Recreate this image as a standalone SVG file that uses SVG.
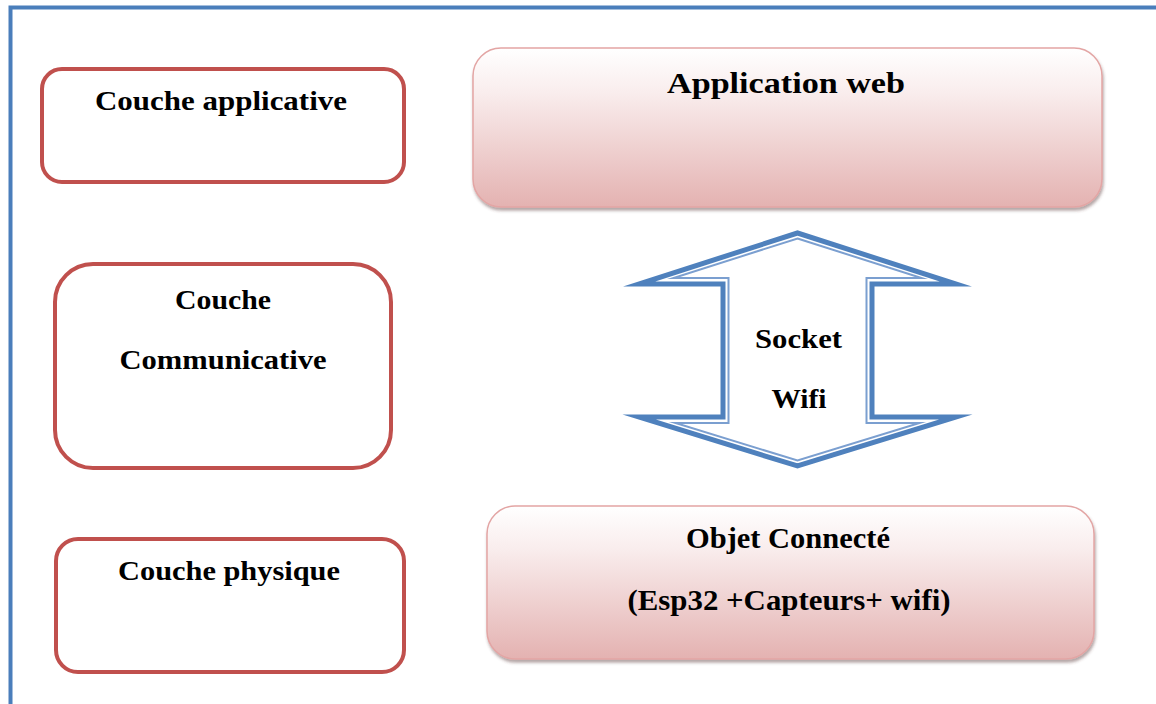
<svg xmlns="http://www.w3.org/2000/svg" width="1156" height="704" viewBox="0 0 1156 704">
  <defs>
    <linearGradient id="pinkFill" x1="0" y1="0" x2="0" y2="1">
      <stop offset="0" stop-color="#ffffff"/>
      <stop offset="0.28" stop-color="#f9eded"/>
      <stop offset="1" stop-color="#e4b2b1"/>
    </linearGradient>
    <filter id="softShadow" x="-5%" y="-10%" width="110%" height="125%">
      <feDropShadow dx="1" dy="3" stdDeviation="1.5" flood-color="#5a3a3a" flood-opacity="0.45"/>
    </filter>
  </defs>
  <style>
    .frame { fill: none; stroke: #4a7ebb; stroke-width: 4; }
    .layer { fill: #ffffff; stroke: #c0504d; stroke-width: 4; }
    .block { fill: url(#pinkFill); stroke: #e3a5a4; stroke-width: 1.5; filter: url(#softShadow); }
    .arrow-outer { fill: #ffffff; stroke: #4f81bd; stroke-width: 5; stroke-linejoin: miter; stroke-miterlimit: 8; }
    .arrow-inner { fill: none; stroke: #7b9fd0; stroke-width: 2; stroke-linejoin: miter; stroke-miterlimit: 8; }
    text { font-family: "Liberation Serif", "Times New Roman", serif; font-weight: bold; fill: #000000; text-anchor: middle; }
    .small { font-size: 28px; }
    .big { font-size: 30px; }
  </style>

  <rect width="1156" height="704" fill="#ffffff"/>

  <!-- outer frame, running off the right and bottom edges -->
  <rect class="frame" x="10.5" y="7.5" width="1160" height="720"/>

  <!-- left column: layer names -->
  <g id="couche-applicative">
    <rect class="layer" x="42" y="69" width="362" height="113" rx="20"/>
    <text class="small" x="221" y="110" textLength="252" lengthAdjust="spacingAndGlyphs">Couche applicative</text>
  </g>

  <g id="couche-communicative">
    <rect class="layer" x="55" y="264" width="336" height="204" rx="38"/>
    <text class="small" x="223" y="309" textLength="96" lengthAdjust="spacingAndGlyphs">Couche</text>
    <text class="small" x="223" y="369" textLength="207" lengthAdjust="spacingAndGlyphs">Communicative</text>
  </g>

  <g id="couche-physique">
    <rect class="layer" x="56" y="539" width="348" height="133" rx="22"/>
    <text class="small" x="229" y="580" textLength="222" lengthAdjust="spacingAndGlyphs">Couche physique</text>
  </g>

  <!-- right column: components -->
  <g id="application-web">
    <rect class="block" x="473" y="48" width="629" height="159" rx="28"/>
    <text class="big" x="786" y="93" textLength="238" lengthAdjust="spacingAndGlyphs">Application web</text>
  </g>

  <g id="objet-connecte">
    <rect class="block" x="487" y="506" width="607" height="153" rx="28"/>
    <text class="big" x="788" y="548" textLength="204" lengthAdjust="spacingAndGlyphs">Objet Connecté</text>
    <text class="big" x="789" y="610" textLength="323" lengthAdjust="spacingAndGlyphs">(Esp32 +Capteurs+ wifi)</text>
  </g>

  <!-- connector: double-headed block arrow between the web app and the device -->
  <g id="connectors">
    <g id="socket-wifi">
      <path class="arrow-outer" d="M797.5,233 L956,284 L872,284 L872,417 L956,417 L797.5,466 L639,417 L723,417 L723,284 L639,284 Z"/>
      <path class="arrow-inner" d="M797.5,238.5 L921.5,278 L866.5,278 L866.5,423 L919.5,423 L797.5,460.5 L675.5,423 L728.5,423 L728.5,278 L673.5,278 Z"/>
      <text class="small" x="798.5" y="348" textLength="87" lengthAdjust="spacingAndGlyphs">Socket</text>
      <text class="small" x="799" y="408" textLength="55" lengthAdjust="spacingAndGlyphs">Wifi</text>
    </g>
  </g>
</svg>
